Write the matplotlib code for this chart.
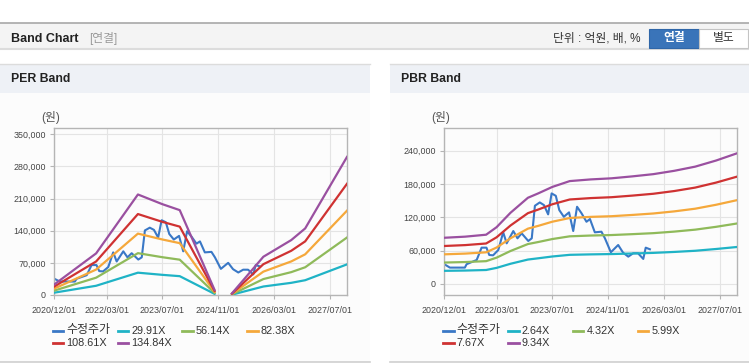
import numpy as np
import matplotlib
matplotlib.use("Agg")
import matplotlib.pyplot as plt
from matplotlib import font_manager
from matplotlib.patches import Rectangle
from matplotlib.lines import Line2D
from matplotlib.ticker import FuncFormatter

_names = {f.name for f in font_manager.fontManager.ttflist}
plt.rcParams['font.family'] = ['Liberation Sans', 'Noto Sans CJK KR', 'DejaVu Sans']
HEAD = ['Liberation Sans Narrow', 'Noto Sans CJK KR'] if 'Liberation Sans Narrow' in _names \
    else ['Liberation Sans', 'Noto Sans CJK KR']

W, H = 749, 364

# x = months since 2020/12/01
TICK_M = [0, 15, 31, 47, 63, 79]
TICK_LABELS = ["2020/12/01", "2022/03/01", "2023/07/01", "2024/11/01", "2026/03/01", "2027/07/01"]

# adjusted close (수정주가)
PRICE_M = [0, 1.6, 5.9, 6.4, 9.3, 10.7, 12.1, 12.9, 14, 15.5, 16.9, 17.9, 19.8, 21, 22.2, 24.1, 25.1,
           26, 27.4, 28.6, 29.8, 30.8, 32, 33, 34.3, 35.8, 37, 38.1, 39.4, 40.8, 41.8, 43.2, 45.1,
           46.1, 47.8, 49.9, 51.3, 52.8, 54.2, 55.6, 57.1, 57.8, 59]
PRICE = [35400, 29300, 29300, 35400, 43100, 65200, 65200, 52000, 51400, 61000, 92800, 73000, 95100,
         82000, 91000, 77200, 82000, 140600, 146600, 141800, 125100, 162800, 158500, 132800, 120800,
         128700, 95100, 138800, 126900, 111800, 116700, 92800, 93900, 82000, 56900, 70000, 56200,
         49000, 55100, 55100, 44900, 65200, 62300]

# PER band
PER_M = [0, 12, 24, 31, 36, 46, 48, 51, 60, 68, 72, 84]
PER_LABELS = ["29.91X", "56.14X", "82.38X", "108.61X", "134.84X"]
PER_2991 = [5100, 20100, 48600, 43900, 41000, 2400, np.nan, 800, 18500, 26500, 32200, 66700]
PER_5614 = [9600, 37700, 91100, 82300, 76900, 4500, np.nan, 1500, 34700, 49800, 60400, 125200]
PER_8238 = [14000, 55400, 133700, 120900, 112900, 6700, np.nan, 2300, 50900, 73100, 88600, 183700]
PER_10861 = [18500, 73000, 176300, 159300, 148900, 8800, np.nan, 3000, 67100, 96300, 116800, 242200]
PER_13484 = [23000, 90600, 218900, 197800, 184800, 10900, np.nan, 3700, 83300, 119600, 145000, 300700]

# PBR band
PBR_M = [0, 6, 12, 15, 19, 24, 27, 31, 36, 42, 48, 54, 60, 66, 72, 78, 84]
PBR_LABELS = ["2.64X", "4.32X", "5.99X", "7.67X", "9.34X"]
PBR_264 = [23500, 24000, 25000, 28800, 36200, 43800, 46100, 49300, 52300, 53100, 53700, 54700,
           55800, 57500, 59600, 62800, 66400]
PBR_432 = [38400, 39300, 40900, 47200, 59200, 71700, 75400, 80700, 85600, 87000, 87900, 89500,
           91300, 94100, 97600, 102700, 108700]
PBR_599 = [53200, 54500, 56800, 65400, 82100, 99400, 104500, 111900, 118600, 120600, 121800,
           124100, 126700, 130500, 135300, 142400, 150700]
PBR_767 = [68200, 69800, 72700, 83800, 105100, 127300, 133900, 143300, 151900, 154400, 156000,
           158900, 162200, 167100, 173300, 182300, 193000]
PBR_934 = [83000, 85000, 88500, 102000, 128000, 155000, 163000, 174500, 185000, 188000, 190000,
           193500, 197500, 203500, 211000, 222000, 235000]

PRICE_COLOR = "#3a78c6"
BAND_COLORS = ["#1fb3c6", "#8fba5a", "#f5a83b", "#cf3232", "#9a50a0"]


def fx(x): return x / W
def fy(y): return 1 - y / H


def rect(fig, x0, y0, x1, y1, z=-10, **kw):
    fig.add_artist(Rectangle((fx(x0), fy(y1)), fx(x1) - fx(x0), fy(y0) - fy(y1),
                             transform=fig.transFigure, zorder=z, **kw))


def hline(fig, x0, x1, y, color, lw=1.0):
    fig.add_artist(Line2D([fx(x0), fx(x1)], [fy(y), fy(y)], transform=fig.transFigure,
                          color=color, lw=lw, zorder=-5))


fig = plt.figure(figsize=(W / 100, H / 100), dpi=100)
fig.patch.set_facecolor("white")

# top header bar
rect(fig, 0, 22.5, W, 48, facecolor="#f4f4f4", edgecolor="none")
hline(fig, 0, W, 22.5, "#a8a8a8", 1.2)
hline(fig, 0, W, 48.5, "#dcdcdc", 1.5)
fig.text(fx(11), fy(38.5), "Band Chart", family=HEAD, fontsize=9, fontweight="bold",
         color="#222", va="center")
fig.text(fx(89), fy(38.5), "[연결]", fontsize=8.5, color="#9a9a9a", va="center")
fig.text(fx(553), fy(38.5), "단위 : 억원, 배, %", fontsize=8.5, color="#333", va="center")
rect(fig, 649, 29, 699, 47.5, z=1, facecolor="#3a74b9", edgecolor="#2f66a8", lw=0.8)
fig.text(fx(674), fy(38.5), "연결", fontsize=8.5, fontweight="bold", color="white",
         ha="center", va="center")
rect(fig, 699, 29, 748, 47.5, z=1, facecolor="white", edgecolor="#c4c4c4", lw=0.8)
fig.text(fx(723.5), fy(38.5), "별도", fontsize=8.5, color="#333", ha="center", va="center")

# panels
panels = [
    dict(x0=0, x1=370, title="PER Band", ax_x=54.3, ylim=(0, 363000), yt=range(0, 350001, 70000),
         m=PER_M, bands=[PER_2991, PER_5614, PER_8238, PER_10861, PER_13484], labels=PER_LABELS,
         leg_x=52.7),
    dict(x0=390, x1=749, title="PBR Band", ax_x=444.3, ylim=(-20000, 280000),
         yt=range(0, 240001, 60000), m=PBR_M,
         bands=[PBR_264, PBR_432, PBR_599, PBR_767, PBR_934], labels=PBR_LABELS, leg_x=443.3),
]

for p in panels:
    rect(fig, p["x0"], 64, p["x1"], 362, facecolor="#fcfcfc", edgecolor="none")
    rect(fig, p["x0"], 64, p["x1"], 92.5, facecolor="#eef1f6", edgecolor="none")
    hline(fig, p["x0"], p["x1"], 64, "#dcdcdc", 1.0)
    hline(fig, p["x0"], p["x1"], 362, "#cfcfcf", 1.2)
    fig.text(fx(p["x0"] + 11), fy(79.5), p["title"], family=HEAD, fontsize=8.8,
             fontweight="bold", color="#222", va="center")

    ax = fig.add_axes([fx(p["ax_x"]), fy(295), (347 - 54.3) / W, (295 - 128.3) / H])
    ax.set_facecolor("none")
    ax.plot(PRICE_M, PRICE, color=PRICE_COLOR, lw=1.5, zorder=2)
    for vals, c in zip(p["bands"], BAND_COLORS):
        ax.plot(p["m"], vals, color=c, lw=1.6, zorder=3)
    ax.set_xlim(0, 84)
    ax.set_ylim(*p["ylim"])
    ax.set_xticks(TICK_M)
    ax.set_xticklabels(TICK_LABELS)
    ax.set_yticks(list(p["yt"]))
    ax.yaxis.set_major_formatter(FuncFormatter(lambda v, _: f"{int(v):,}"))
    ax.grid(True, color="#e4e4e4", lw=0.8, zorder=0)
    ax.set_axisbelow(True)
    for s in ax.spines.values():
        s.set_color("#b5b5b5")
        s.set_linewidth(1.0)
    ax.tick_params(labelsize=6.4, colors="#b5b5b5", labelcolor="#444", length=3, width=0.8,
                   pad=3)
    ax.tick_params(axis="x", pad=5)
    fig.text(fx(p["ax_x"] - 4), fy(117), "(원)", fontsize=8.5, color="#555", ha="center",
             va="center")

    # legend
    items = [("수정주가", PRICE_COLOR)] + list(zip(p["labels"], BAND_COLORS))
    for i, (lab, c) in enumerate(items):
        lx = p["leg_x"] + (i % 4) * 64.8
        ly = 330.5 + (i // 4) * 12.8
        fig.add_artist(Line2D([fx(lx), fx(lx + 10.5)], [fy(ly), fy(ly)],
                              transform=fig.transFigure, color=c, lw=2))
        fig.text(fx(lx + 13.5), fy(ly), lab, fontsize=8.6 if i == 0 else 7.8, color="#333",
                 va="center")

fig.savefig("out.png", dpi=100)
